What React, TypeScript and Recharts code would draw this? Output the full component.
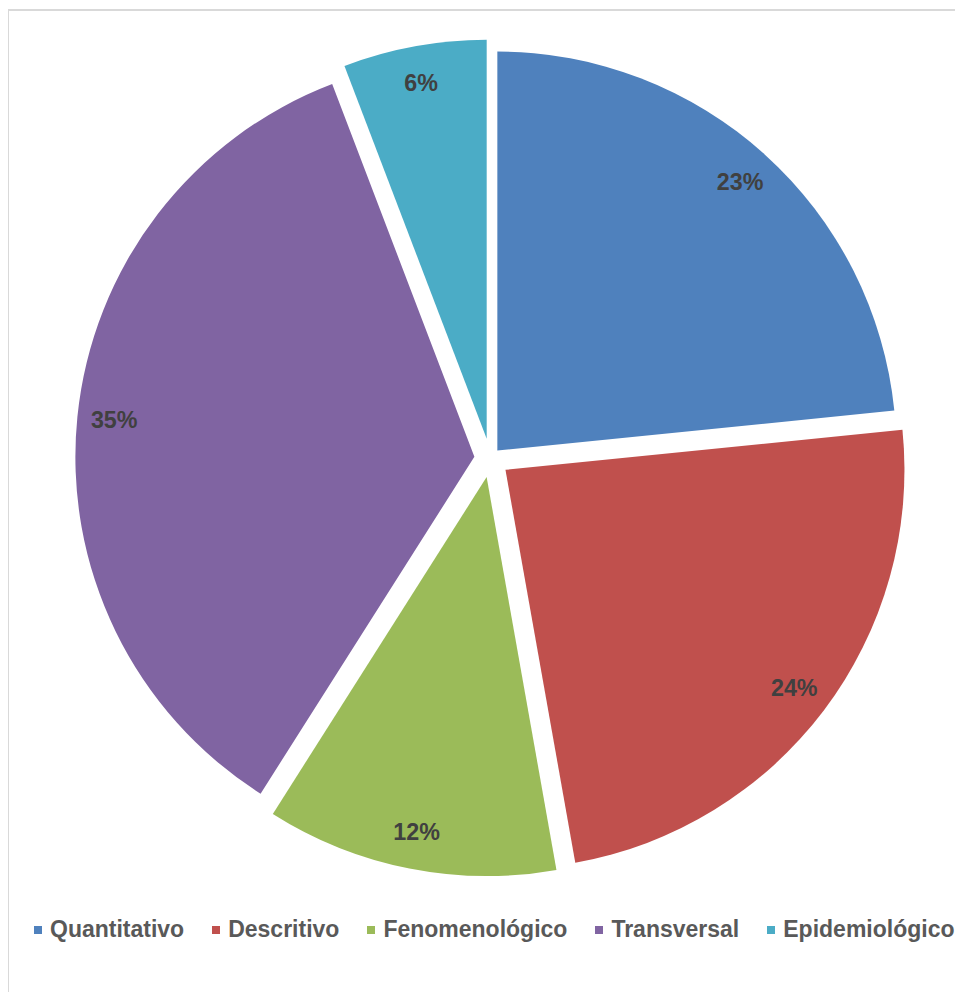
import { PieChart, Pie, Cell, Sector, Legend } from 'recharts';

const categories = ['Quantitativo', 'Descritivo', 'Fenomenológico', 'Transversal', 'Epidemiológico'];
const shares = [23.4, 23.8, 11.8, 35.2, 5.8];
const colors = ['#4F81BD', '#C0504D', '#9BBB59', '#8064A2', '#4BACC6'];
// per-slice explosion distance (px), as set point by point in the original
const explode = [10.5, 19, 19, 16, 20];

const data = categories.map((name, i) => ({ name, value: shares[i] }));

const RADIAN = Math.PI / 180;
const LABEL_R = 362;

const sliceIndex = (props: any) => {
  const name = props.name ?? props.payload?.name;
  const i = categories.indexOf(name);
  return i >= 0 ? i : props.index ?? 0;
};

const ExplodedSlice = (props: any) => {
  const { cx, cy, midAngle } = props;
  const off = explode[sliceIndex(props)];
  const dx = off * Math.cos(-midAngle * RADIAN);
  const dy = off * Math.sin(-midAngle * RADIAN);
  return <Sector {...props} cx={cx + dx} cy={cy + dy} stroke="none" />;
};

const renderLabel = (props: any) => {
  const { cx, cy, midAngle, percent } = props;
  const r = LABEL_R + explode[sliceIndex(props)];
  const x = cx + r * Math.cos(-midAngle * RADIAN);
  const y = cy + r * Math.sin(-midAngle * RADIAN);
  return (
    <text
      x={x}
      y={y}
      textAnchor="middle"
      dominantBaseline="central"
      fill="#404040"
      style={{ fontFamily: '"Liberation Sans", Arial, sans-serif', fontSize: 23.3, fontWeight: 700 }}
    >
      {`${Math.round(percent * 100)}%`}
    </text>
  );
};

const renderLegend = () => (
  <div style={{ display: 'flex', alignItems: 'center', whiteSpace: 'nowrap' }}>
    {categories.map((name, i) => (
      <div key={name} style={{ display: 'flex', alignItems: 'center', marginRight: 28 }}>
        <span style={{ display: 'inline-block', width: 8, height: 8, background: colors[i], marginRight: 8 }} />
        <span
          style={{
            fontFamily: '"Liberation Sans", Arial, sans-serif',
            fontSize: 23,
            fontWeight: 700,
            color: '#595959',
          }}
        >
          {name}
        </span>
      </div>
    ))}
  </div>
);

export default function App() {
  return (
    <div style={{ position: 'relative', width: 955, height: 984, overflow: 'hidden', background: '#fff' }}>
      <div
        style={{
          position: 'absolute',
          left: -1,
          top: 1,
          width: 1000,
          height: 1010,
          border: '2px solid #d9d9d9',
          boxSizing: 'border-box',
        }}
      />
      <div style={{ position: 'absolute', left: 0, top: 0 }}>
        <PieChart width={1000} height={984} margin={{ top: 0, right: 0, bottom: 0, left: 0 }}>
          <Pie
            data={data}
            dataKey="value"
            nameKey="name"
            cx={482.3}
            cy={450.4}
            outerRadius={399}
            startAngle={90}
            endAngle={-270}
            stroke="none"
            shape={ExplodedSlice}
            label={renderLabel}
            labelLine={false}
            isAnimationActive={false}
          >
            {data.map((d, i) => (
              <Cell key={d.name} fill={colors[i]} />
            ))}
          </Pie>
          <Legend
            content={renderLegend}
            wrapperStyle={{ position: 'absolute', left: 26, top: 908, width: 'auto', bottom: 'auto' }}
          />
        </PieChart>
      </div>
    </div>
  );
}
